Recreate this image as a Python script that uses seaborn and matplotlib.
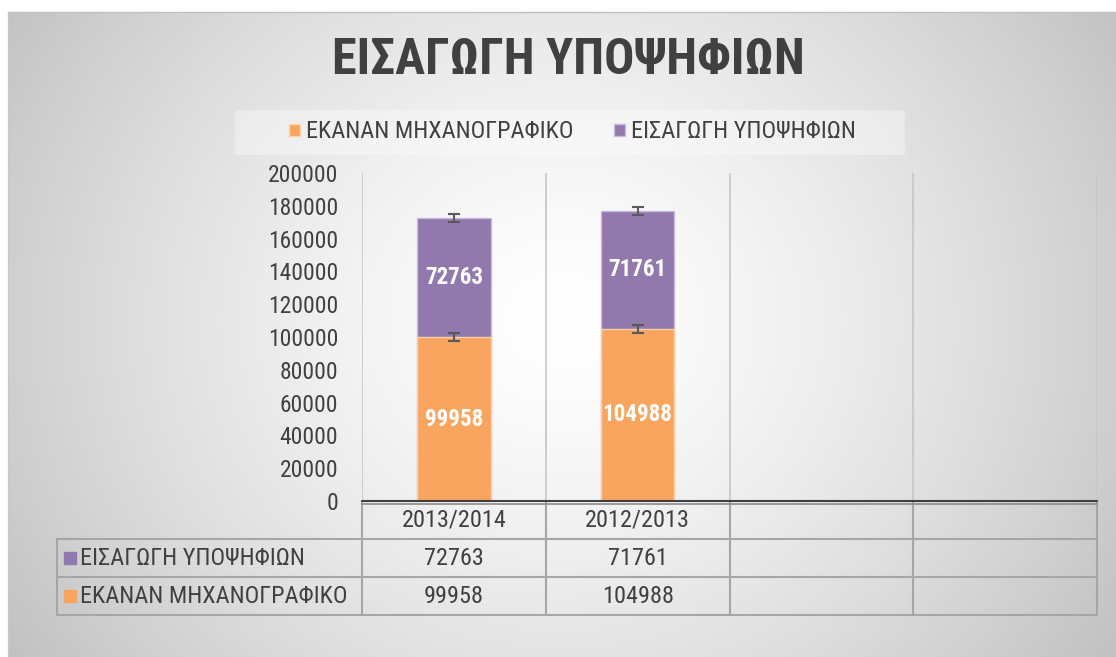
import numpy as np
import pandas as pd
import matplotlib
matplotlib.use('Agg')
import matplotlib.pyplot as plt
from matplotlib import font_manager
from matplotlib.patches import Rectangle, Patch
import seaborn as sns

# data
years = ['2013/2014', '2012/2013']
slots = ['2013/2014', '2012/2013', '', '']   # the chart keeps two empty columns
series_names = ['ΕΚΑΝΑΝ ΜΗΧΑΝΟΓΡΑΦΙΚΟ', 'ΕΙΣΑΓΩΓΗ ΥΠΟΨΗΦΙΩΝ']
made_application = [99958, 104988]
admitted = [72763, 71761]
err_application = [2500, 2500]
err_admitted = [2300, 2300]
yticks = list(range(0, 200001, 20000))
title = 'ΕΙΣΑΓΩΓΗ ΥΠΟΨΗΦΙΩΝ'

orange = '#F7A55F'
purple = '#9179AE'
dark = '#404040'

sns.set_theme(style='white')
names = {f.name for f in font_manager.fontManager.ttflist}
# narrow fonts first, Calibri-like look
prefs = [('Roboto Condensed', 0.97, 0.95), ('Liberation Sans Narrow', 1.0, 1.0),
         ('Roboto', 0.86, 0.86), ('Liberation Sans', 0.83, 0.83)]
fam, k, kt = next((f, a, b) for f, a, b in prefs if f in names)
plt.rcParams['font.family'] = [fam, 'DejaVu Sans']
fs = 18 * k

df = pd.DataFrame({'year': years, 'application': made_application, 'admitted': admitted})
df['total'] = df['application'] + df['admitted']

W, H = 1116, 657
fig = plt.figure(figsize=(W / 100, H / 100), dpi=100)

# radial grey background
bg = fig.add_axes([0, 0, 1, 1])
bg.set_xlim(0, W); bg.set_ylim(H, 0); bg.axis('off')
yy, xx = np.mgrid[0:H, 0:W]
d = np.hypot(xx - 560, (yy - 320) * 1.1)
shade = 1 - 0.21 * np.clip(d / 600, 0, 1.3) ** 1.4
img = np.dstack([shade] * 3)
img[:12, :] = 1
img[:, :8] = 1
bg.imshow(img, extent=(0, W, H, 0), aspect='auto', interpolation='bilinear')
bg.plot([8, W], [12, 12], color='#c0c0c0', lw=1)
bg.plot([8, 8], [12, H], color='#c8c8c8', lw=1)
bg.add_patch(Rectangle((235, 110), 670, 45, facecolor='white', alpha=0.35, edgecolor='none'))

# main axes
ax = fig.add_axes([362 / W, (H - 501) / H, 735 / W, 328 / H])
ax.patch.set_alpha(0)
sns.barplot(data=df, x='year', y='total', color=purple, width=0.4, saturation=1,
            edgecolor='#c9b9dc', linewidth=1, errorbar=None, ax=ax, zorder=2)
sns.barplot(data=df, x='year', y='application', color=orange, width=0.4, saturation=1,
            edgecolor='#fcd2ad', linewidth=1, errorbar=None, ax=ax, zorder=3)
x = np.arange(len(years))
ax.errorbar(x, df['total'], yerr=err_admitted, fmt='none', ecolor='#595959',
            elinewidth=1.5, capsize=4.5, capthick=1.5, zorder=5)
ax.errorbar(x, df['application'], yerr=err_application, fmt='none', ecolor='#595959',
            elinewidth=1.5, capsize=4.5, capthick=1.5, zorder=5)
for i in range(len(years)):
    ax.text(i, made_application[i] / 2, str(made_application[i]), ha='center', va='center',
            color='white', fontsize=fs * 0.95, fontweight='bold', zorder=6)
    ax.text(i, made_application[i] + admitted[i] / 2, str(admitted[i]), ha='center', va='center',
            color='white', fontsize=fs * 0.95, fontweight='bold', zorder=6)

ax.set_xlim(-0.5, len(slots) - 0.5)
ax.set_ylim(0, 200000)
ax.set_yticks(yticks)
ax.set_yticklabels([str(t) for t in yticks])
ax.tick_params(axis='y', length=0, pad=17, labelsize=fs * 0.97, labelcolor=dark)
ax.set_xticks([])
ax.set_xlabel('')
ax.set_ylabel('')
sns.despine(ax=ax, left=True, bottom=True)

xt = ax.get_xaxis_transform()
row_lines = [-0.1159, -0.2317, -0.3476]
left = -2.158
for b in np.arange(-0.5, len(slots)):
    ax.plot([b, b], [0, 1], transform=xt, color='#c6c6c6', lw=1.2, zorder=0)
    ax.plot([b, b], [0, row_lines[-1]], transform=xt, color='#a6a6a6', lw=1.5, clip_on=False)
for yf in row_lines:
    ax.plot([left, len(slots) - 0.5], [yf, yf], transform=xt, color='#a6a6a6', lw=1.5, clip_on=False)
ax.plot([left, left], [row_lines[0], row_lines[-1]], transform=xt, color='#a6a6a6', lw=1.5, clip_on=False)
ax.plot([-0.5, len(slots) - 0.5], [0, 0], transform=xt, color='#404040', lw=1.5, clip_on=False, zorder=7)
ax.plot([-0.5, len(slots) - 0.5], [-0.009, -0.009], transform=xt, color='#8c8c8c', lw=1.2, clip_on=False, zorder=7)

# data table
for i, s in enumerate(slots):
    ax.text(i, -0.058, s, transform=xt, ha='center', va='center', fontsize=fs, color=dark)
rows = [(series_names[1], admitted, purple, -0.174), (series_names[0], made_application, orange, -0.29)]
for name, vals, c, yf in rows:
    ax.plot([-2.087], [yf], marker='s', ms=8.5, color=c, transform=xt, clip_on=False)
    ax.text(-2.035, yf, name, transform=xt, ha='left', va='center', fontsize=fs, color=dark)
    for i, v in enumerate(vals):
        ax.text(i, yf, str(v), transform=xt, ha='center', va='center', fontsize=fs, color=dark)

# legend and title
handles = [Patch(facecolor=orange, edgecolor='#fcd2ad'), Patch(facecolor=purple, edgecolor='#c9b9dc')]
fig.legend(handles, series_names, loc='center', bbox_to_anchor=(572.5 / W, (H - 132) / H), ncol=2,
           frameon=False, fontsize=fs, handlelength=0.42, handleheight=0.42, handletextpad=0.25,
           columnspacing=1.7, labelcolor=dark)
fig.text(568 / W, (H - 61) / H, title, ha='center', va='center', fontsize=38 * kt,
         fontweight='bold', color=dark)

fig.savefig('out.png', dpi=100)
